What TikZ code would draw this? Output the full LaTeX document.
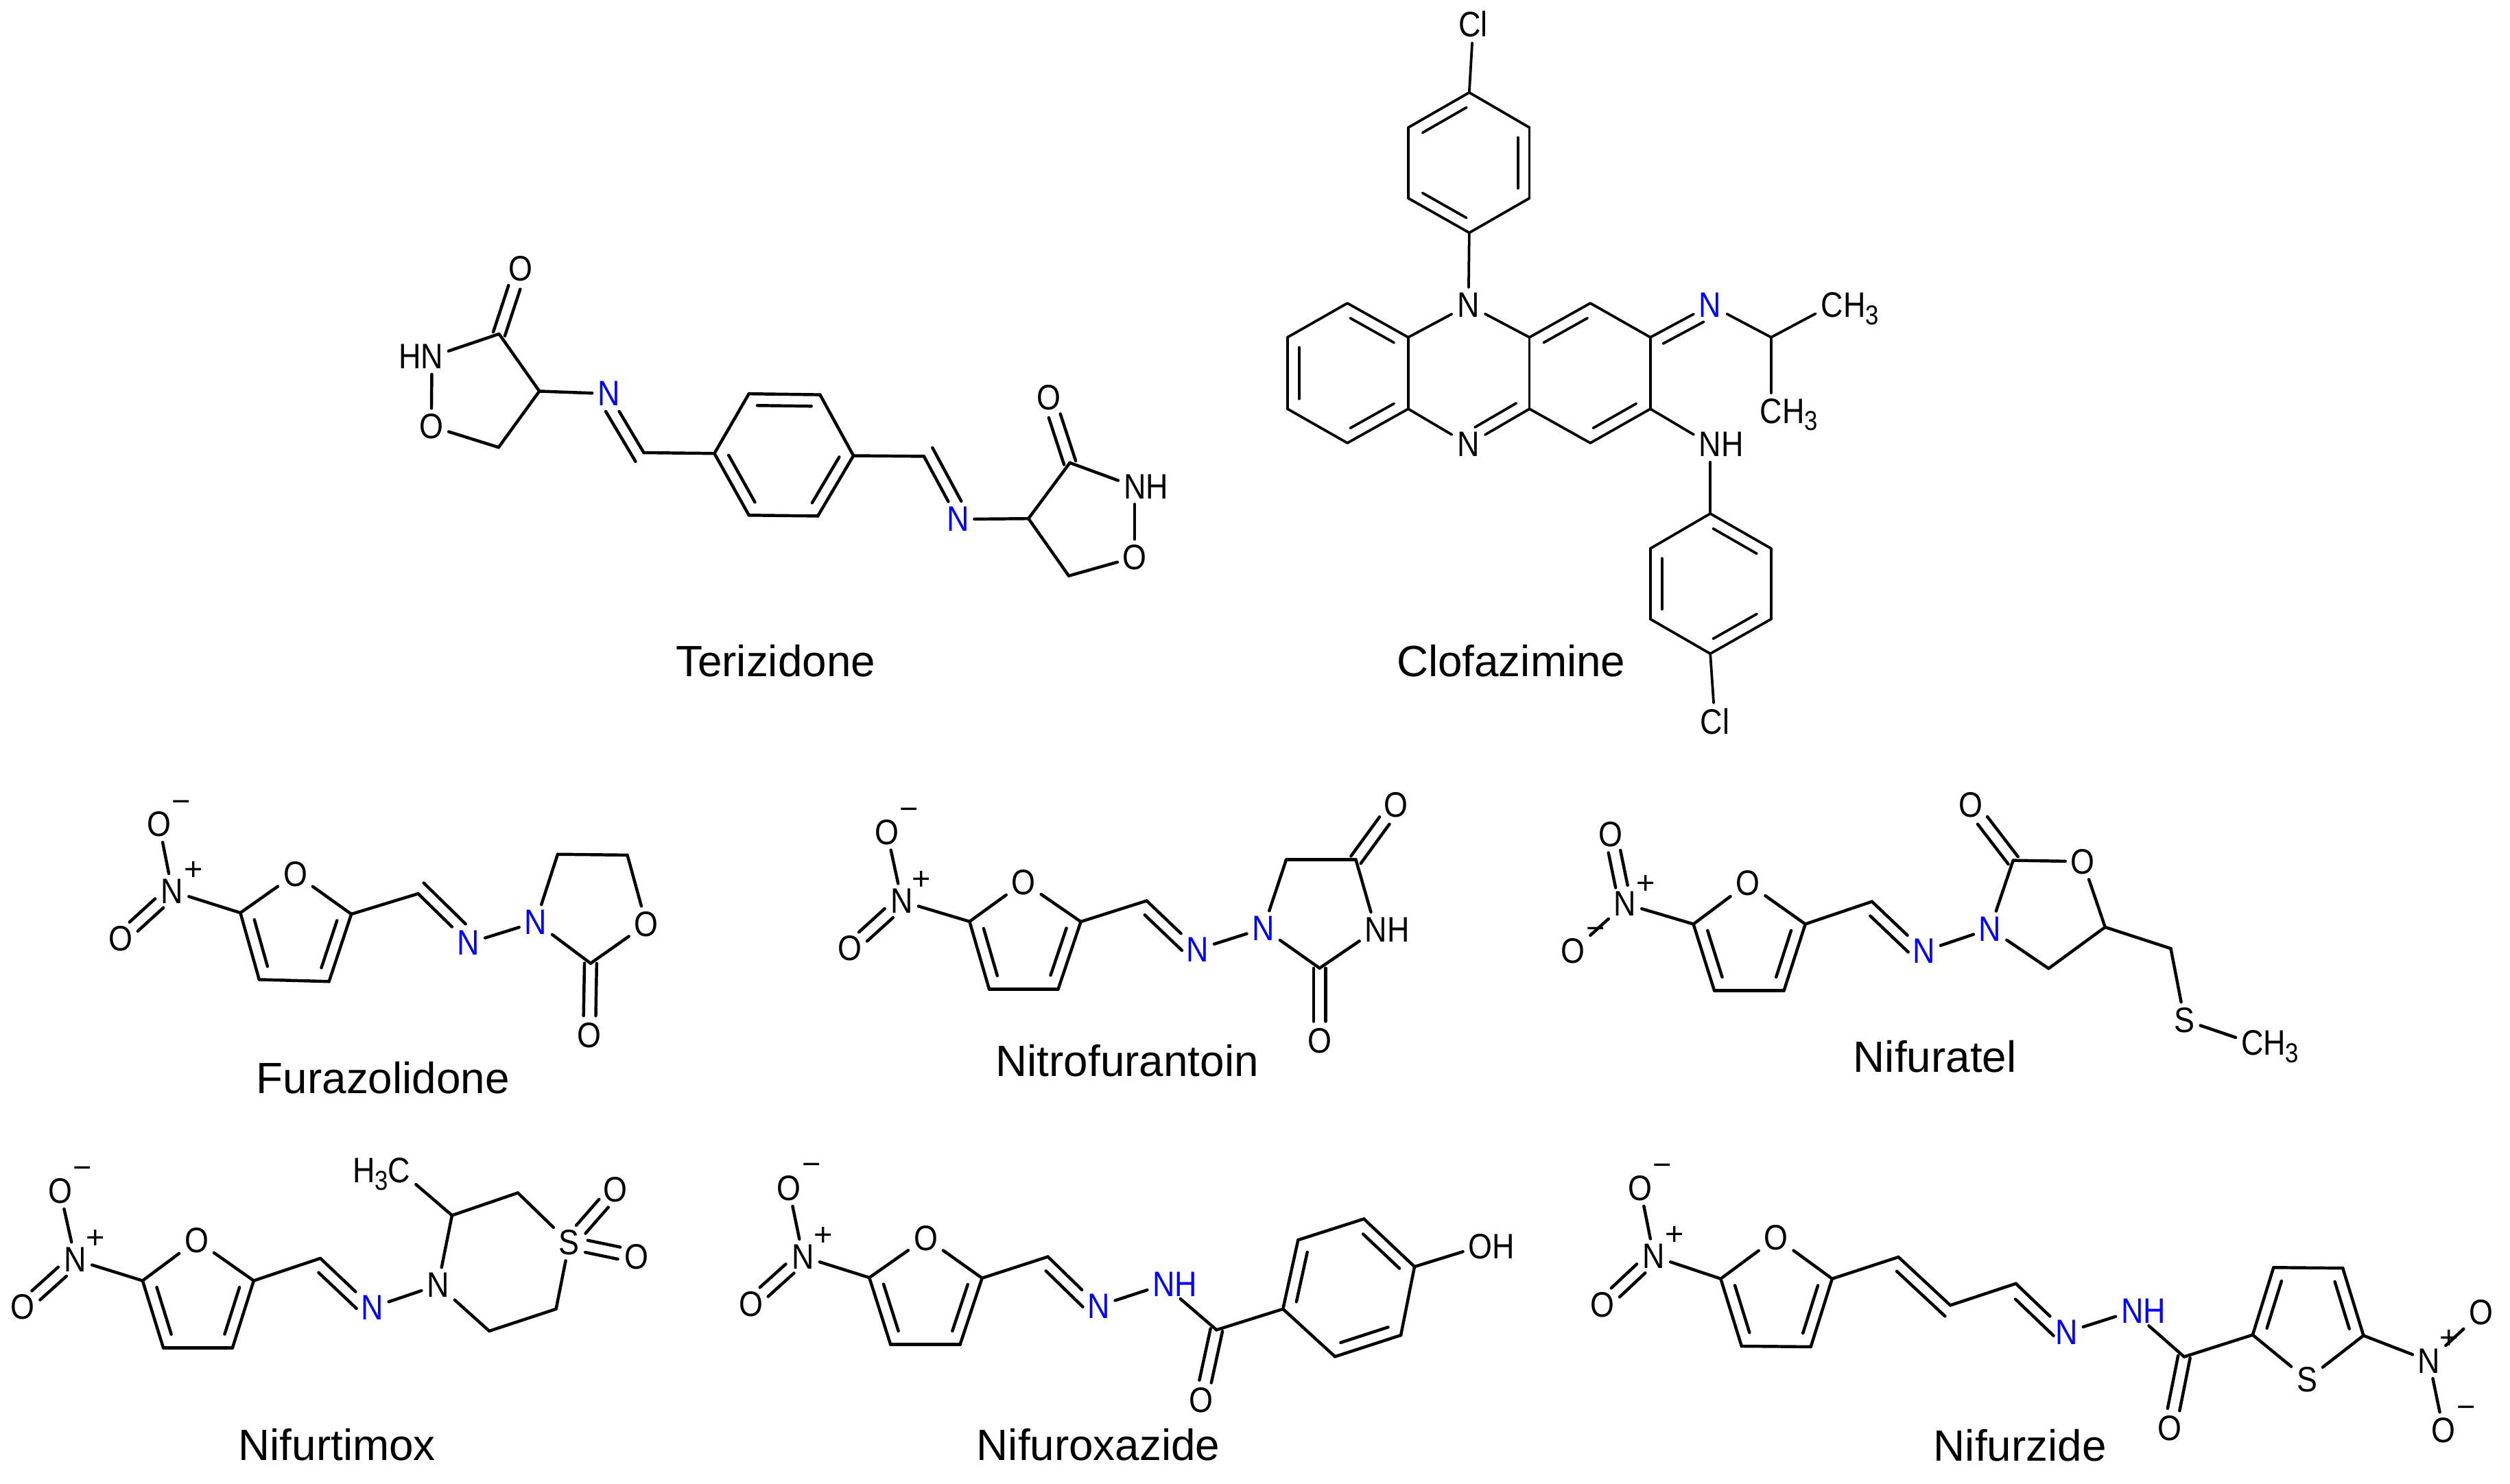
\documentclass[tikz,border=0pt]{standalone}
\usepackage{fontspec}
\usepackage{graphicx}
\setmainfont{Liberation Sans}
\usetikzlibrary{calc}
\def\bw{.95pt}
\tikzset{
  bond/.style={line width=\bw,line cap=round,line join=round,black},
  atomlabel/.style={inner sep=1.5pt,font=\fontsize{11}{13}\selectfont,text=black},
  bluelabel/.style={atomlabel,text=blue},
  charge/.style={inner sep=0pt,font=\fontsize{10}{12}\selectfont,text=black},
  title/.style={inner sep=0pt,font=\fontsize{13.6}{16}\selectfont,text=black}
}
\newcommand{\lb}[1]{\scalebox{.87}[1]{#1}}
\newcommand{\subt}[1]{\smash{\raisebox{-.4ex}{\fontsize{8.5}{10}\selectfont #1}}}
\newcommand{\vx}[3]{\coordinate (#1) at (#2,#3);}
\newcommand{\atm}[4]{\node[atomlabel] (#1) at (#2,#3) {\lb{#4}};}
\newcommand{\atb}[4]{\node[bluelabel] (#1) at (#2,#3) {\lb{#4}};}
\newcommand{\chg}[4]{\node[charge] (#1) at (#2,#3) {#4};}
\newcommand{\bd}[2]{\draw[bond] (#1) -- (#2);}
% main bond + parallel line on the right (r) or left (l) of the direction a->b
\newcommand{\dhr}[4]{\draw[bond] (#1) -- (#2);\draw[bond] ($(#1)!#3!(#2)!3.6pt!-90:(#2)$) -- ($(#2)!#4!(#1)!3.6pt!90:(#1)$);}
\newcommand{\dhl}[4]{\draw[bond] (#1) -- (#2);\draw[bond] ($(#1)!#3!(#2)!3.6pt!90:(#2)$) -- ($(#2)!#4!(#1)!3.6pt!-90:(#1)$);}
% two symmetric lines
\newcommand{\dcb}[4]{\draw[bond] ($(#1)!#3!(#2)!1.9pt!90:(#2)$) -- ($(#2)!#4!(#1)!1.9pt!-90:(#1)$);\draw[bond] ($(#1)!#3!(#2)!1.9pt!-90:(#2)$) -- ($(#2)!#4!(#1)!1.9pt!90:(#1)$);}
\begin{document}
\begin{tikzpicture}
\fill[white] (0pt,0pt) rectangle (780pt,-461.3pt);
\useasboundingbox (0pt,0pt) rectangle (780pt,-461.3pt);
\begin{scope}[x=.499pt,y=-.5pt,yshift=.75pt]

% ---------- Terizidone
\atm{ta}{324.1}{168.7}{O}
\vx{tb}{310.8}{209.1}
\atm{tc}{269}{223.2}{\llap{H}N}
\atm{td}{268.6}{266.5}{O}
\vx{te}{335.9}{244.7}
\vx{tf}{310.5}{279.6}
\atb{tg}{379.1}{246.3}{N}
\vx{th}{400.9}{282.9}
\vx{r1}{444.9}{283.4}\vx{r2}{466.4}{246.3}\vx{r3}{510.7}{246.9}
\vx{r4}{531.5}{284.8}\vx{r5}{509.3}{322.3}\vx{r6}{466.4}{321.8}
\vx{ti}{575.4}{285.2}
\atb{tj}{596.5}{324.3}{N}
\vx{tk}{640.5}{323.9}
\vx{tl}{666.3}{289.2}
\atm{tm}{653}{248.6}{O}
\atm{tn}{706.7}{304}{N\rlap{H}}
\atm{to}{706.7}{347.9}{O}
\vx{tp}{665.6}{359.5}
\dcb{tb}{ta}{0pt}{6pt}
\bd{tb}{tc}\bd{tc}{td}\bd{td}{tf}\bd{tf}{te}\bd{te}{tb}\bd{te}{tg}
\dhl{th}{tg}{-.05}{.2}
\bd{th}{r1}
\dhr{r2}{r3}{.12}{.12}\bd{r1}{r2}\bd{r3}{r4}\dhr{r4}{r5}{.12}{.12}\bd{r5}{r6}\dhr{r6}{r1}{.12}{.12}
\bd{r4}{ti}
\dhl{ti}{tj}{-.05}{.2}
\bd{tj}{tk}\bd{tk}{tl}\bd{tl}{tn}\bd{tn}{to}\bd{to}{tp}\bd{tp}{tk}
\dcb{tl}{tm}{0pt}{6pt}
\node[title] (tname) at (483,412.5) {Terizidone};

% ---------- Clofazimine
\def\bw{.8pt}
\atm{ca}{917.5}{16.6}{Cl}
\vx{c1}{915}{59}\vx{c2}{952.5}{80.8}\vx{c3}{952.5}{124.7}\vx{c4}{915}{146.2}\vx{c5}{877}{124.7}\vx{c6}{877}{80.8}
\atm{cn}{914.5}{191.2}{N}
\vx{a1}{877}{211.2}\vx{a2}{877}{255.7}\vx{a3}{839.1}{276.9}\vx{a4}{801.8}{255.7}\vx{a5}{801.8}{211.2}\vx{a6}{839.1}{190}
\atm{cm}{914.5}{277.8}{N}
\vx{b1}{952.5}{211.2}\vx{b2}{990.4}{190}\vx{b3}{1027.8}{211.2}\vx{b4}{1027.8}{255.7}\vx{b5}{990.4}{276.9}\vx{b6}{952.5}{255.7}
\atb{cb}{1065.1}{191.2}{N}
\vx{cc}{1103}{211.2}
\atm{cd}{1141}{191}{C\rlap{H\subt{3}}}
\atm{ce}{1103}{257}{C\rlap{H\subt{3}}}
\atm{cf}{1065.1}{277.8}{N\rlap{H}}
\vx{d1}{1065.1}{320.8}\vx{d2}{1103}{342.5}\vx{d3}{1103}{386.4}\vx{d4}{1065.1}{407.9}\vx{d5}{1027.8}{386.4}\vx{d6}{1027.8}{342.5}
\atm{cg}{1068}{450}{Cl}
\bd{ca}{c1}
\bd{c1}{c2}\dhr{c2}{c3}{.14}{.14}\bd{c3}{c4}\dhr{c4}{c5}{.14}{.14}\bd{c5}{c6}\dhr{c6}{c1}{.14}{.14}
\bd{c4}{cn}\bd{cn}{a1}\bd{cn}{b1}
\bd{a1}{a2}\dhr{a2}{a3}{.14}{.14}\bd{a3}{a4}\dhr{a4}{a5}{.14}{.14}\bd{a5}{a6}\dhr{a6}{a1}{.14}{.14}
\bd{a2}{cm}\dhr{b6}{cm}{.12}{.2}
\dhr{b1}{b2}{.14}{.14}\bd{b2}{b3}\bd{b3}{b4}\dhr{b4}{b5}{.14}{.14}\bd{b5}{b6}\bd{b6}{b1}
\dhr{b3}{cb}{.12}{.2}\bd{cb}{cc}\bd{cc}{cd}\bd{cc}{ce}
\bd{b4}{cf}\bd{cf}{d1}
\dhr{d1}{d2}{.14}{.14}\bd{d2}{d3}\dhr{d3}{d4}{.14}{.14}\bd{d4}{d5}\dhr{d5}{d6}{.14}{.14}\bd{d6}{d1}
\bd{d4}{cg}
\node[title] (cname) at (941,412.5) {Clofazimine};
\def\bw{.95pt}

% ---------- Furazolidone
\atm{fa}{99.1}{514}{O}\chg{fam}{112.8}{503}{−}
\atm{fb}{107.3}{555.6}{N}\chg{fbp}{120.4}{543}{+}
\atm{fc}{75.1}{585}{O}
\vx{fd}{149.7}{569}
\atm{fe}{183.9}{544.9}{O}
\vx{ff}{218.8}{569.8}\vx{fg}{204.9}{611.7}\vx{fh}{161.4}{610.5}
\vx{fi}{260.4}{557.1}
\atb{fj}{291.8}{587.8}{N}
\atb{fk}{333.6}{574.8}{N}
\vx{fl}{347.3}{532.6}\vx{fm}{390.7}{533.1}
\atm{fn}{402.5}{576}{O}
\vx{fo}{367.8}{600.4}
\atm{fp}{367}{645}{O}
\bd{fa}{fb}\dcb{fb}{fc}{5.5pt}{5.5pt}\bd{fb}{fd}
\bd{fd}{fe}\bd{fe}{ff}\dhr{ff}{fg}{.15}{.15}\bd{fg}{fh}\dhr{fh}{fd}{.15}{.15}
\bd{ff}{fi}\dhl{fi}{fj}{-.05}{.22}\bd{fj}{fk}
\bd{fk}{fl}\bd{fl}{fm}\bd{fm}{fn}\bd{fn}{fo}\bd{fo}{fk}
\dcb{fo}{fp}{0pt}{6pt}
\node[title] (fname) at (238.5,671.5) {Furazolidone};

% ---------- Nitrofurantoin
\atm{na}{552.4}{518.8}{O}\chg{nam}{566.1}{507.6}{−}
\atm{nb}{561.7}{561.8}{N}\chg{nbp}{573.9}{548.8}{+}
\atm{nc}{529.3}{591.2}{O}
\vx{nd}{603.8}{574.4}
\atm{ne}{637.5}{550}{O}
\vx{nf}{673.1}{574.5}\vx{ng}{659}{616.4}\vx{nh}{616}{616.4}
\vx{ni}{714.1}{561.5}
\atb{nj}{745.8}{591.7}{N}
\atb{nk}{786.8}{578.7}{N}
\vx{nl}{801}{536}\vx{nm}{844.4}{536}
\atm{no}{869.3}{501.9}{O}
\atm{np}{856.9}{579.5}{N\rlap{H}}
\vx{nq}{821.8}{603.4}
\atm{nr}{821.8}{648.5}{O}
\bd{na}{nb}\dcb{nb}{nc}{5.5pt}{5.5pt}\bd{nb}{nd}
\bd{nd}{ne}\bd{ne}{nf}\dhr{nf}{ng}{.15}{.15}\bd{ng}{nh}\dhr{nh}{nd}{.15}{.15}
\bd{nf}{ni}\dhr{ni}{nj}{.12}{.15}\bd{nj}{nk}
\bd{nk}{nl}\bd{nl}{nm}\bd{nm}{np}\bd{np}{nq}\bd{nq}{nk}
\dcb{nm}{no}{0pt}{6pt}\dcb{nq}{nr}{0pt}{6pt}
\node[title] (nname) at (702,661) {Nitrofurantoin};

% ---------- Nifuratel
\atm{ua}{1003.2}{520.1}{O}
\atm{ub}{1012.1}{563.4}{N}\chg{ubp}{1024.8}{551.6}{+}
\atm{uc}{979.5}{592.8}{O}\chg{ucm}{993.7}{581.5}{−}
\vx{ud}{1054.6}{576}
\atm{ue}{1088.5}{550.7}{O}
\vx{uf}{1124.3}{576}\vx{ug}{1111}{617.3}\vx{uh}{1067.6}{617.3}
\vx{ui}{1165.8}{562}
\atb{uj}{1198.2}{592.8}{N}
\atb{uk}{1239.4}{578.9}{N}
\vx{ul}{1253.7}{536.4}
\atm{um}{1227.3}{502}{O}
\atm{un}{1297.1}{537.1}{O}
\vx{uo}{1311}{577.9}\vx{up}{1275.8}{603.6}\vx{uq}{1351.9}{591.2}
\atm{ur}{1360.5}{635.7}{S}
\atm{us}{1402.6}{650}{C\rlap{H\subt{3}}}
\dcb{ub}{ua}{5.5pt}{5.5pt}\bd{ub}{uc}\bd{ub}{ud}
\bd{ud}{ue}\bd{ue}{uf}\dhr{uf}{ug}{.15}{.15}\bd{ug}{uh}\dhr{uh}{ud}{.15}{.15}
\bd{uf}{ui}\dhr{ui}{uj}{.12}{.15}\bd{uj}{uk}
\bd{uk}{ul}\bd{ul}{un}\bd{un}{uo}\bd{uo}{up}\bd{up}{uk}
\dcb{ul}{um}{0pt}{6pt}
\bd{uo}{uq}\bd{uq}{ur}\bd{ur}{us}
\node[title] (uname) at (1205,658.5) {Nifuratel};

% ---------- Nifurtimox
\atm{ma}{37.4}{741.9}{O}\chg{mam}{51.4}{730.5}{−}
\atm{mb}{47}{784.7}{N}\chg{mbp}{59.6}{771.7}{+}
\atm{mc}{14.2}{814.2}{O}
\vx{md}{88.8}{797.7}
\atm{me}{122.4}{772.7}{O}
\vx{mf}{158}{797.7}\vx{mg}{144.8}{839.4}\vx{mh}{101.7}{839.4}
\vx{mi}{199.5}{783.8}
\atb{mj}{231.8}{814.3}{N}
\atm{mk}{272.8}{800.4}{N}
\vx{ml}{281.5}{757.1}
\atm{mm}{248.7}{729}{\llap{H\subt{3}}C}
\vx{mn}{322.5}{743.1}
\atm{mo}{354.5}{774.1}{S}
\atm{mp}{383.2}{741.3}{O}
\atm{mq}{396.3}{782.8}{O}
\vx{mr}{346.3}{815.3}\vx{ms}{304.7}{829}
\bd{ma}{mb}\dcb{mb}{mc}{5.5pt}{5.5pt}\bd{mb}{md}
\bd{md}{me}\bd{me}{mf}\dhr{mf}{mg}{.15}{.15}\bd{mg}{mh}\dhr{mh}{md}{.15}{.15}
\bd{mf}{mi}\dhr{mi}{mj}{.12}{.15}\bd{mj}{mk}
\bd{mk}{ml}\bd{ml}{mm}\bd{ml}{mn}\bd{mn}{mo}\bd{mo}{mr}\bd{mr}{ms}\bd{ms}{mk}
\dcb{mo}{mp}{5.5pt}{5.5pt}\dcb{mo}{mq}{5.5pt}{5.5pt}
\node[title] (mname) at (209.9,899.5) {Nifurtimox};

% ---------- Nifuroxazide
\atm{xa}{491.3}{740.2}{O}\chg{xam}{505.4}{728.3}{−}
\atm{xb}{500.1}{782.8}{N}\chg{xbp}{512.6}{770.1}{+}
\atm{xc}{467.6}{812.1}{O}
\vx{xd}{541.4}{795.8}
\atm{xe}{576.5}{771.2}{O}
\vx{xf}{611.6}{796.1}\vx{xg}{597.9}{837.4}\vx{xh}{554.6}{837.4}
\vx{xi}{652.6}{782.8}
\atb{xj}{684.1}{813.4}{N}
\atb{xk}{724.8}{800.1}{N\rlap{H}}
\vx{xl}{757.6}{828.3}
\atm{xm}{748.1}{872.1}{O}
\vx{y1}{799}{815.3}\vx{y2}{808.4}{772.4}\vx{y3}{849.4}{759.3}\vx{y4}{880.9}{789}\vx{y5}{872.4}{831.6}\vx{y6}{831.4}{844.9}
\atm{xo}{921.9}{776.3}{O\rlap{H}}
\bd{xa}{xb}\dcb{xb}{xc}{5.5pt}{5.5pt}\bd{xb}{xd}
\bd{xd}{xe}\bd{xe}{xf}\dhr{xf}{xg}{.15}{.15}\bd{xg}{xh}\dhr{xh}{xd}{.15}{.15}
\bd{xf}{xi}\dhr{xi}{xj}{.12}{.15}\bd{xj}{xk}\bd{xk}{xl}
\dcb{xl}{xm}{0pt}{6pt}\bd{xl}{y1}
\dhr{y1}{y2}{.14}{.14}\bd{y2}{y3}\dhr{y3}{y4}{.14}{.14}\bd{y4}{y5}\dhr{y5}{y6}{.14}{.14}\bd{y6}{y1}
\bd{y4}{xo}
\node[title] (xname) at (684,899.5) {Nifuroxazide};

% ---------- Nifurzide
\atm{za}{1021.5}{740.1}{O}\chg{zam}{1035.2}{728.7}{−}
\atm{zb}{1030}{782.6}{N}\chg{zbp}{1043}{769.8}{+}
\atm{zc}{998}{812.6}{O}
\vx{zd}{1071.6}{796.5}
\atm{ze}{1106.1}{771}{O}
\vx{zf}{1141}{796.5}\vx{zg}{1127.7}{838.8}\vx{zh}{1084.6}{838.4}
\vx{zi}{1182.3}{783}\vx{zj}{1214.6}{813}\vx{zk}{1255.4}{799.5}
\atb{zl}{1287}{829.7}{N}
\atb{zm}{1327.9}{816.7}{N\rlap{H}}
\vx{zn}{1360.2}{845}
\atm{zo}{1351.3}{889.6}{O}
\vx{zp}{1402.9}{831.4}\vx{zq}{1415.9}{789.5}\vx{zr}{1459}{789.9}\vx{zs}{1471.9}{831.8}
\atm{zt}{1436.7}{859.1}{S}
\atm{zu}{1512.8}{847.6}{N}\chg{zup}{1525.4}{834.2}{+}
\atm{zv}{1545.1}{817.6}{O}
\atm{zw}{1521.7}{890.6}{O}\chg{zwm}{1535.8}{879.4}{−}
\bd{za}{zb}\dcb{zb}{zc}{5.5pt}{5.5pt}\bd{zb}{zd}
\bd{zd}{ze}\bd{ze}{zf}\dhr{zf}{zg}{.15}{.15}\bd{zg}{zh}\dhr{zh}{zd}{.15}{.15}
\bd{zf}{zi}\dhr{zi}{zj}{.12}{-.05}\bd{zj}{zk}\dhr{zk}{zl}{.15}{.1}\bd{zl}{zm}\bd{zm}{zn}
\dcb{zn}{zo}{0pt}{6pt}\bd{zn}{zp}
\dhr{zp}{zq}{.15}{.15}\bd{zq}{zr}\dhr{zr}{zs}{.15}{.15}\bd{zs}{zt}\bd{zt}{zp}
\bd{zs}{zu}\bd{zu}{zv}\bd{zu}{zw}
\node[title] (zname) at (1258,900) {Nifurzide};
\end{scope}
\end{tikzpicture}
\end{document}
